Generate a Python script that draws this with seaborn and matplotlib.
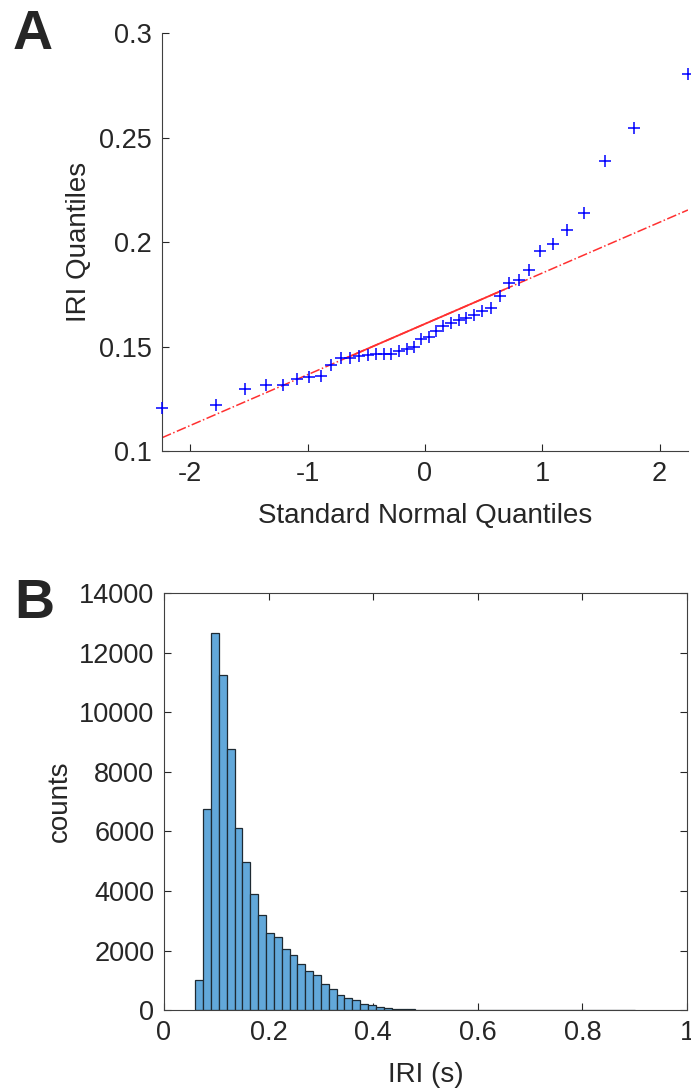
from statistics import NormalDist

import numpy as np
import pandas as pd
import seaborn as sns
import matplotlib.pyplot as plt

# %%
# panel A: 40 sorted IRI values (s)
iri_sorted = [0.1207, 0.1218, 0.1295, 0.1314, 0.1316, 0.1347, 0.1353, 0.1358,
              0.1412, 0.1443, 0.1446, 0.1457, 0.1460, 0.1462, 0.1463, 0.1466,
              0.1478, 0.1490, 0.1500, 0.1538, 0.1544, 0.1573, 0.1597, 0.1613,
              0.1629, 0.1637, 0.1653, 0.1672, 0.1684, 0.1740, 0.1805, 0.1820,
              0.1864, 0.1958, 0.1990, 0.2059, 0.2138, 0.2390, 0.2547, 0.2802]
qq_xticks = [-2, -1, 0, 1, 2]
qq_yticks = [0.1, 0.15, 0.2, 0.25, 0.3]
qq_yticklabels = ["0.1", "0.15", "0.2", "0.25", "0.3"]

# panel B: IRI histogram, bins of 0.015 s starting at 0.06 s
hist_counts = [1020, 6750, 12650, 11240, 8780, 6110, 4990, 3890, 3190, 2600,
               2465, 2040, 1845, 1535, 1310, 1165, 890, 720, 490, 410,
               325, 215, 160, 110, 75, 50, 35, 25, 18, 13,
               10, 8, 6, 5, 4, 3, 3, 2, 2, 2,
               1, 1, 1, 1, 1, 1, 1, 1, 1, 1,
               1, 1, 1, 1, 1, 1]
bin_start, bin_width = 0.06, 0.015
hist_xticks = [0, 0.2, 0.4, 0.6, 0.8, 1]
hist_xticklabels = ["0", "0.2", "0.4", "0.6", "0.8", "1"]
hist_yticks = [0, 2000, 4000, 6000, 8000, 10000, 12000, 14000]

# %%
sns.set_theme(style="ticks")
plt.rcParams["font.family"] = ["Liberation Sans", "DejaVu Sans"]
plt.rcParams["axes.unicode_minus"] = False

txt = "#262626"
n = len(iri_sorted)
nd = NormalDist()
qq = pd.DataFrame({
    "theory": [nd.inv_cdf((i + 0.5) / n) for i in range(n)],
    "iri": iri_sorted,
})

# reference line through the quartiles (matlab qqplot style)
q1, q3 = np.percentile(qq["iri"], [25, 75], method="hazen")
x1, x3 = nd.inv_cdf(0.25), nd.inv_cdf(0.75)
slope = (q3 - q1) / (x3 - x1)
xmin, xmax = qq["theory"].min(), qq["theory"].max()
line_full = pd.DataFrame({"x": [xmin, xmax]})
line_full["y"] = q1 + slope * (line_full["x"] - x1)
line_mid = pd.DataFrame({"x": [x1, x3], "y": [q1, q3]})

fig = plt.figure(figsize=(6.91, 10.91), dpi=100)
axA = fig.add_axes([0.2344, 0.5866, 0.7612, 0.3831])
axB = fig.add_axes([0.2373, 0.0742, 0.757, 0.3820])

sns.lineplot(data=line_full, x="x", y="y", ax=axA, color="#ff3030",
             linestyle="-.", linewidth=1.1)
sns.lineplot(data=line_mid, x="x", y="y", ax=axA, color="#ff3030",
             linestyle="-", linewidth=1.3)
sns.scatterplot(data=qq, x="theory", y="iri", ax=axA, marker="+",
                color="#0000ff", s=80, linewidth=1.1, clip_on=False, zorder=3)

axA.set_xlim(xmin, xmax)
axA.set_ylim(0.1, 0.3)
axA.set_xticks(qq_xticks)
axA.set_yticks(qq_yticks)
axA.set_yticklabels(qq_yticklabels)
axA.set_xlabel("Standard Normal Quantiles", fontsize=20, color=txt, labelpad=12)
axA.set_ylabel("IRI Quantiles", fontsize=20, color=txt, labelpad=5)
sns.despine(ax=axA)

# histogram
edges = np.round(bin_start + bin_width * np.arange(len(hist_counts) + 1), 4)
hist = pd.DataFrame({"iri": (edges[:-1] + edges[1:]) / 2, "count": hist_counts})
sns.histplot(data=hist, x="iri", weights="count", bins=edges.tolist(), ax=axB,
             color="#62a8da", alpha=1, edgecolor="#1e2a33", linewidth=0.9)
axB.set_xlim(0, 1)
axB.set_ylim(0, 14000)
axB.set_xticks(hist_xticks)
axB.set_xticklabels(hist_xticklabels)
axB.set_yticks(hist_yticks)
axB.set_xlabel("IRI (s)", fontsize=20, color=txt, labelpad=12)
axB.set_ylabel("counts", fontsize=20, color=txt, labelpad=4)
axB.tick_params(top=True, right=True)

for ax in (axA, axB):
    ax.tick_params(direction="in", length=5, width=0.8, color=txt,
                   labelcolor=txt, labelsize=19.5, pad=7)
    for sp in ax.spines.values():
        sp.set_color("#404040")
        sp.set_linewidth(0.8)

fig.text(0.018, 0.992, "A", fontsize=40, fontweight="bold", va="top")
fig.text(0.020, 0.470, "B", fontsize=40, fontweight="bold", va="top")

plt.savefig("out.png", dpi=100)
